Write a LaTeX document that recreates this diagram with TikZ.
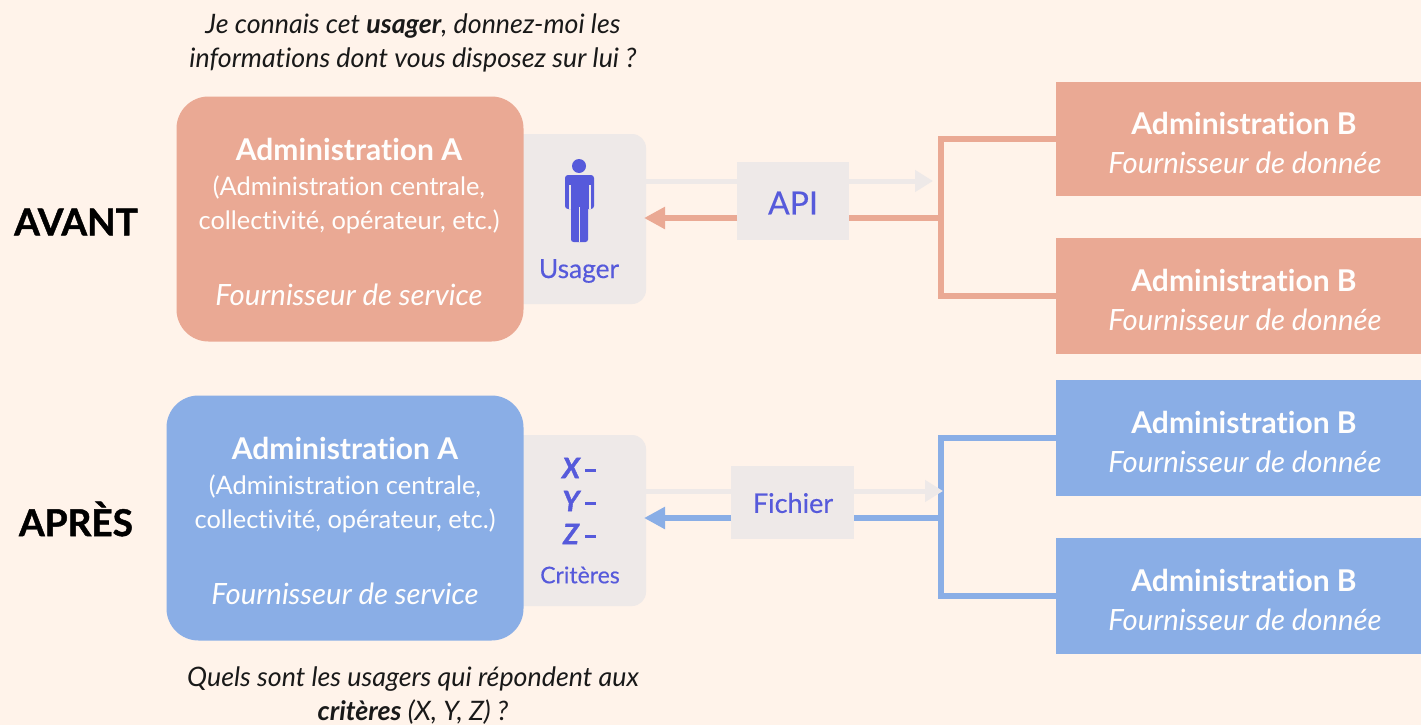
\documentclass[tikz,border=0pt]{standalone}
\usepackage{fontspec}
\setmainfont{Lato}[Ligatures=NoCommon]
\newfontfamily\heavyfont{Lato}[Ligatures=NoCommon,BoldFeatures={FakeBold=1.2},BoldItalicFeatures={FakeBold=1.5}]
\newfontfamily\medfont{Lato}[Ligatures=NoCommon,FakeBold=0.35]
\definecolor{bgc}{HTML}{FFF3EA}
\definecolor{sal}{HTML}{EAA994}
\definecolor{blu}{HTML}{8AAEE6}
\definecolor{gry}{HTML}{EEE9E8}
\definecolor{ind}{HTML}{565ADB}
\usetikzlibrary{arrows.meta}
\tikzset{
 x=1pt,y=-1pt,
 txt/.style={inner sep=0pt,outer sep=0pt,text=#1,align=center},
 box/.style={fill=#1,draw=none,inner sep=0pt,outer sep=0pt},
 title/.style={txt=white!92!bgc,font=\fontsize{30}{34}\selectfont\bfseries},
 sub/.style={txt=white!92!bgc,font=\fontsize{25.4}{34.5}\selectfont},
 role/.style={txt=white!92!bgc,font=\fontsize{29.3}{32}\selectfont\itshape},
 ask/.style={txt=black!90,font=\fontsize{26.8}{34}\selectfont\itshape},
 side/.style={txt=black,font=\heavyfont\fontsize{37}{40}\selectfont\bfseries},
 blue/.style={txt=ind,font=\medfont\fontsize{#1}{#1}\selectfont},
 crit/.style={txt=ind,font=\heavyfont\fontsize{28}{28}\selectfont\bfseries\itshape},
 conn/.style={draw=#1,line width=5.5pt},
 back/.style={draw=gry,line width=5pt,-{Triangle[length=18pt,width=21pt]}},
 ret/.style={conn=#1,-{Triangle[length=21pt,width=21pt]}},
}
\begin{document}
\begin{tikzpicture}[x=1pt,y=-1pt]
\useasboundingbox[fill=bgc] (0,0) rectangle (1421,725);

% --- AVANT ---
\node[ask] (q1) at (413,43) {Je connais cet \textbf{usager}, donnez-moi les\\informations dont vous disposez sur lui ?};
\node[side] (avant) at (76,222) {AVANT};
\node[box=gry,rounded corners=14pt,minimum width=166pt,minimum height=170pt] (ug) at (563,219) {};
\node[box=sal,rounded corners=32pt,minimum width=347pt,minimum height=245pt] (a1) at (350,219) {};
\node[title] (a1t) at (349,149) {Administration A};
\node[sub] (a1s) at (349,205) {(Administration centrale,\\collectivité, opérateur, etc.)};
\node[role] (a1r) at (349,295) {Fournisseur de service};
\node[blue=26.3] (ul) at (579,271) {Usager};
\fill[ind] (579,166) circle (7pt);
\fill[ind,rounded corners=3pt] (565,175) rectangle (594,209);
\fill[ind,rounded corners=2.5pt] (571,180) rectangle (588,242);
\fill[gry] (568.5,185) rectangle (570.5,209);
\fill[gry] (588.5,185) rectangle (590.5,209);
\fill[gry] (578.7,207) rectangle (580.3,242);

\node[box=gry,minimum width=112pt,minimum height=78pt] (api) at (793,201) {};
\node[blue=32] (apit) at (793,203) {API};
\node[box=sal,minimum width=365pt,minimum height=114pt] (b1) at (1238.5,139) {};
\node[box=sal,minimum width=365pt,minimum height=116pt] (b2) at (1238.5,296) {};
\foreach \n/\y in {b1/123,b2/280}{
 \node[title] (\n t) at (1244,\y) {Administration B};
 \node[role] (\n r) at (1245,\y+40) {Fournisseur de donnée};
}
\coordinate (j1) at (941,218);
\coordinate (g1) at (933,181);
\draw[back] (ug.east |- g1) -- (api.west |- g1) (api.east |- g1) -- (g1);
\coordinate (t1) at (644,218);
\draw[ret=sal] (api.west |- j1) -- (t1);
\draw[conn=sal] (api.east |- j1) -- (j1);
\draw[conn=sal,line cap=butt] (b1.west) -| (j1) |- (b2.west);

% --- APRES ---
\node[side] (apres) at (76,519) {APRÈS};
\node[box=gry,rounded corners=14pt,minimum width=166pt,minimum height=171pt] (cg) at (563,520.5) {};
\node[box=blu,rounded corners=32pt,minimum width=357pt,minimum height=245pt] (a2) at (345,518) {};
\node[title] (a2t) at (345,448) {Administration A};
\node[sub] (a2s) at (345,504) {(Administration centrale,\\collectivité, opérateur, etc.)};
\node[role] (a2r) at (345,594) {Fournisseur de service};
\node[crit] (x) at (571,468) {X};
\node[crit] (y) at (571,501) {Y};
\node[crit] (z) at (571,534) {Z};
\foreach \n/\y in {x/469,y/502,z/535}{\fill[ind] (585,\y) rectangle (596,\y+2.5);}
\node[blue=23] (cl) at (580,575) {Critères};

\node[box=gry,minimum width=123pt,minimum height=73pt] (fi) at (792.5,502) {};
\node[blue=27] (fit) at (793,503) {Fichier};
\node[box=blu,minimum width=365pt,minimum height=116pt] (b3) at (1238.5,438) {};
\node[box=blu,minimum width=365pt,minimum height=116pt] (b4) at (1238.5,596) {};
\foreach \n/\y in {b3/422,b4/580}{
 \node[title] (\n t) at (1244,\y) {Administration B};
 \node[role] (\n r) at (1245,\y+40) {Fournisseur de donnée};
}
\coordinate (j2) at (941,518);
\coordinate (g2) at (943,491);
\coordinate (t2) at (644,518);
\draw[conn=blu,line cap=butt] (b3.west) -| (j2) |- (b4.west);
\draw[back] (cg.east |- g2) -- (fi.west |- g2) (fi.east |- g2) -- (g2);
\draw[ret=blu] (fi.west |- j2) -- (t2);
\draw[conn=blu] (fi.east |- j2) -- (j2);
\node[ask] (q2) at (413,696) {Quels sont les usagers qui répondent aux\\\textbf{critères} (X, Y, Z) ?};
\end{tikzpicture}
\end{document}
